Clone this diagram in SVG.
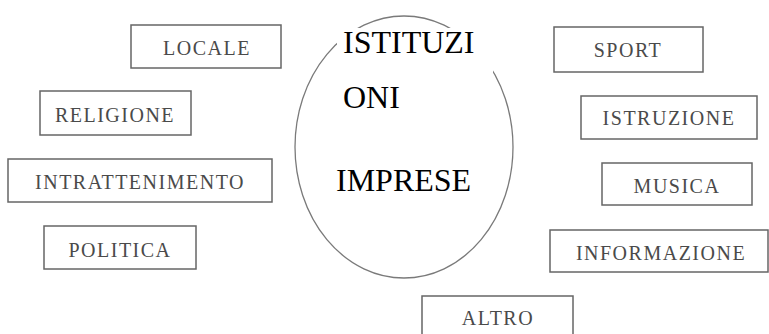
<svg xmlns="http://www.w3.org/2000/svg" width="769" height="334" viewBox="0 0 769 334">
<style>
.box rect{fill:#fff;stroke:#666;stroke-width:1.5}
.box text{font-family:"Liberation Serif","Times New Roman",serif;font-size:20px;letter-spacing:1.5px;fill:#4a4a4a;text-anchor:middle}
.big{font-family:"Liberation Serif","Times New Roman",serif;font-size:32px;fill:#000}
</style>
<rect width="769" height="334" fill="#fff"/>
<g id="connectors"/>
<g id="centro">
<ellipse cx="404" cy="147" rx="109" ry="131" fill="none" stroke="#7a7a7a" stroke-width="1.3"/>
<rect x="337" y="28" width="156" height="88" fill="#fff"/>
<text class="big" x="343" y="53">ISTITUZI</text>
<text class="big" x="343" y="108">ONI</text>
<text class="big" x="336" y="191">IMPRESE</text>
</g>
<g id="locale" class="box"><rect x="131" y="25" width="150" height="43"/><text x="207" y="55">LOCALE</text></g>
<g id="religione" class="box"><rect x="40" y="91" width="151" height="44"/><text x="115" y="122">RELIGIONE</text></g>
<g id="intrattenimento" class="box"><rect x="8" y="159" width="264" height="43"/><text x="140" y="189">INTRATTENIMENTO</text></g>
<g id="politica" class="box"><rect x="44" y="226" width="152" height="43"/><text x="120" y="257">POLITICA</text></g>
<g id="sport" class="box"><rect x="554" y="27" width="149" height="45"/><text x="628" y="57">SPORT</text></g>
<g id="istruzione" class="box"><rect x="581" y="96" width="176" height="43"/><text x="669" y="125">ISTRUZIONE</text></g>
<g id="musica" class="box"><rect x="602" y="163" width="150" height="42"/><text x="677" y="193">MUSICA</text></g>
<g id="informazione" class="box"><rect x="550" y="230" width="218" height="42"/><text x="661" y="260">INFORMAZIONE</text></g>
<g id="altro" class="box"><rect x="422" y="296" width="151" height="50"/><text x="498" y="325">ALTRO</text></g>
</svg>
